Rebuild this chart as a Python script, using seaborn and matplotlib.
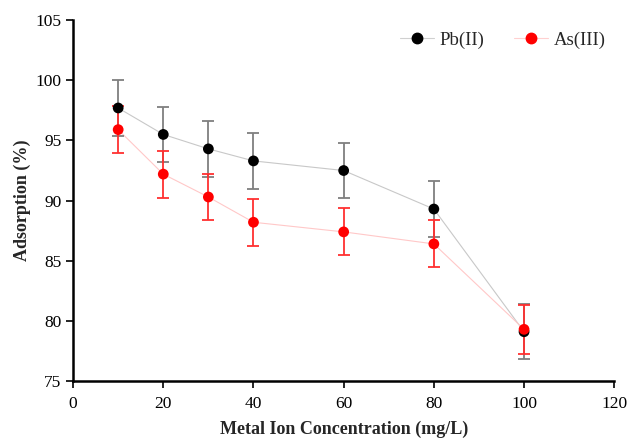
import pandas as pd
import matplotlib
matplotlib.use("Agg")
import matplotlib.pyplot as plt
import seaborn as sns

# data
conc = [10, 20, 30, 40, 60, 80, 100]
pb_ads = [97.7, 95.5, 94.3, 93.3, 92.5, 89.3, 79.1]
pb_err = [2.3, 2.3, 2.3, 2.3, 2.3, 2.3, 2.3]
as_ads = [95.9, 92.2, 90.3, 88.2, 87.4, 86.4, 79.3]
as_err = [1.95, 1.95, 1.95, 1.95, 1.95, 1.95, 2.05]

sns.set_style("white")
plt.rcParams['font.family'] = ['Liberation Serif', 'DejaVu Serif']

fig = plt.figure(figsize=(6.3, 4.38), dpi=100)
ax = fig.add_axes([0.116, 0.130, 0.859, 0.824])

df = pd.DataFrame({'conc': conc, 'Pb': pb_ads, 'As': as_ads})

#faint connecting lines
sns.lineplot(data=df, x='conc', y='Pb', ax=ax, color='#c8c8c8', lw=0.8, zorder=1)
sns.lineplot(data=df, x='conc', y='As', ax=ax, color='#ffc8c8', lw=0.8, zorder=1)

#error bars and markers
ax.errorbar(conc, pb_ads, yerr=pb_err, fmt='none', ecolor='#7f7f7f', elinewidth=1.3,
            capsize=4, capthick=1.3, zorder=2)
ax.errorbar(conc, as_ads, yerr=as_err, fmt='none', ecolor='#ff3030', elinewidth=1.3,
            capsize=4, capthick=1.3, zorder=3)
sns.scatterplot(x=conc, y=pb_ads, ax=ax, color='black', s=60, edgecolor='none', zorder=4)
sns.scatterplot(x=conc, y=as_ads, ax=ax, color='red', s=60, edgecolor='none', zorder=5)

#legend
h1 = plt.Line2D([0], [0], color='#d0d0d0', lw=0.8, marker='o', markersize=7.5,
                markerfacecolor='black', markeredgecolor='black', label='Pb(II)')
h2 = plt.Line2D([0], [0], color='#ffd0d0', lw=0.8, marker='o', markersize=7.5,
                markerfacecolor='red', markeredgecolor='red', label='As(III)')
ax.legend(handles=[h1, h2], loc='upper right', ncol=2, frameon=False, fontsize=13.5,
          bbox_to_anchor=(1.015, 1.015), columnspacing=1.6, handlelength=1.8,
          handletextpad=0.3)

ax.set_xlim(0, 120)
ax.set_ylim(75, 105)
ax.set_xticks(range(0, 121, 20))
ax.set_yticks(range(75, 106, 5))

for side in ['top', 'right']:
    ax.spines[side].set_visible(False)
for side in ['left', 'bottom']:
    ax.spines[side].set_color('black')
    ax.spines[side].set_linewidth(1.8)

ax.tick_params(axis='both', direction='out', length=5, width=1.2, colors='black',
               labelsize=12.5, left=True, bottom=True)
ax.tick_params(axis='x', pad=6)

ax.set_xlabel('Metal Ion Concentration (mg/L)', fontsize=13, fontweight='bold', labelpad=6)
ax.set_ylabel('Adsorption (%)', fontsize=13, fontweight='bold', labelpad=3)

fig.savefig('out.png', dpi=100)
